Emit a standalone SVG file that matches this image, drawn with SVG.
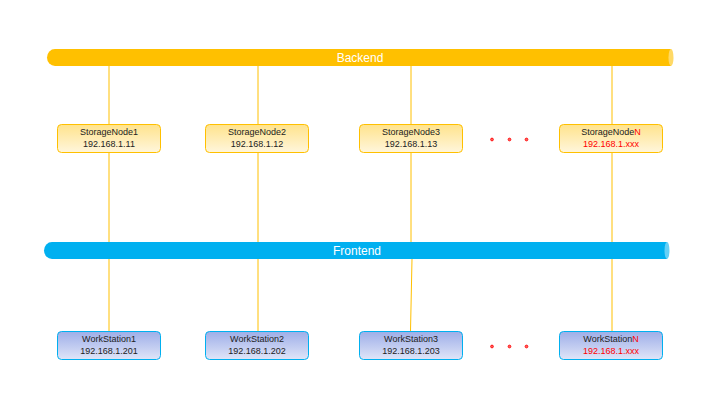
<svg xmlns="http://www.w3.org/2000/svg" width="720" height="405" viewBox="0 0 720 405">
<style>
.t{font-family:"Liberation Sans",Arial,sans-serif;font-size:9px;fill:#222;text-anchor:middle}
.r{fill:#ff0000}
.bl{font-family:"Liberation Sans",Arial,sans-serif;font-size:12px;fill:#fff;text-anchor:middle}
.sn{fill:url(#gy);stroke:#ffc000;stroke-width:1}
.ws{fill:url(#gb);stroke:#00b0f0;stroke-width:1}
.ln{stroke:#ffc000;stroke-width:1;fill:none}
.dot{fill:#ff6060;stroke:#ff0000;stroke-width:0.8}
</style>
<defs>
<linearGradient id="gy" x1="0" y1="0" x2="0" y2="1"><stop offset="0" stop-color="#ffe38c"/><stop offset="1" stop-color="#fff6dc"/></linearGradient>
<linearGradient id="gb" x1="0" y1="0" x2="0" y2="1"><stop offset="0" stop-color="#9eaee8"/><stop offset="1" stop-color="#dfe5f8"/></linearGradient>
</defs>
<rect width="720" height="405" fill="#fff"/>
<g id="connectors">
<line class="ln" x1="109" y1="66" x2="109" y2="331"/>
<line class="ln" x1="258" y1="66" x2="258" y2="331"/>
<line class="ln" x1="411" y1="66" x2="411" y2="242"/>
<line class="ln" x1="412" y1="259" x2="410.5" y2="331"/>
<line class="ln" x1="612" y1="66" x2="612" y2="331"/>
</g>
<g id="backend">
<path d="M55 49 H671 V66 H55 A8 8.5 0 0 1 55 49 Z" fill="#ffc000"/>
<ellipse cx="671" cy="57.5" rx="2.5" ry="8.5" fill="#ffd966"/>
<text class="bl" x="360" y="62">Backend</text>
</g>
<g id="frontend">
<path d="M52 242 H667 V259 H52 A8 8.5 0 0 1 52 242 Z" fill="#00b0f0"/>
<ellipse cx="667" cy="250.5" rx="2.5" ry="8.5" fill="#66d0f6"/>
<text class="bl" x="357" y="255">Frontend</text>
</g>
<g id="storage1"><rect class="sn" x="57.5" y="124.5" width="103" height="28" rx="4"/><text class="t" x="109" y="135">StorageNode1</text><text class="t" x="109" y="147">192.168.1.11</text></g>
<g id="storage2"><rect class="sn" x="205.5" y="124.5" width="103" height="28" rx="4"/><text class="t" x="257" y="135">StorageNode2</text><text class="t" x="257" y="147">192.168.1.12</text></g>
<g id="storage3"><rect class="sn" x="359.5" y="124.5" width="103" height="28" rx="4"/><text class="t" x="411" y="135">StorageNode3</text><text class="t" x="411" y="147">192.168.1.13</text></g>
<g id="storageN"><rect class="sn" x="559.5" y="124.5" width="103" height="28" rx="4"/><text class="t" x="611" y="135">StorageNode<tspan class="r">N</tspan></text><text class="t r" x="611" y="147">192.168.1.xxx</text></g>
<g id="dots1"><circle class="dot" cx="492" cy="139.5" r="1.4"/><circle class="dot" cx="509.5" cy="139.5" r="1.4"/><circle class="dot" cx="526.5" cy="139.5" r="1.4"/></g>
<g id="ws1"><rect class="ws" x="57.5" y="331.5" width="103" height="28" rx="4"/><text class="t" x="109" y="342">WorkStation1</text><text class="t" x="109" y="354">192.168.1.201</text></g>
<g id="ws2"><rect class="ws" x="205.5" y="331.5" width="103" height="28" rx="4"/><text class="t" x="257" y="342">WorkStation2</text><text class="t" x="257" y="354">192.168.1.202</text></g>
<g id="ws3"><rect class="ws" x="359.5" y="331.5" width="103" height="28" rx="4"/><text class="t" x="411" y="342">WorkStation3</text><text class="t" x="411" y="354">192.168.1.203</text></g>
<g id="wsN"><rect class="ws" x="559.5" y="331.5" width="103" height="28" rx="4"/><text class="t" x="611" y="342">WorkStation<tspan class="r">N</tspan></text><text class="t r" x="611" y="354">192.168.1.xxx</text></g>
<g id="dots2"><circle class="dot" cx="492" cy="346.5" r="1.4"/><circle class="dot" cx="509.5" cy="346.5" r="1.4"/><circle class="dot" cx="526.5" cy="346.5" r="1.4"/></g>
</svg>
